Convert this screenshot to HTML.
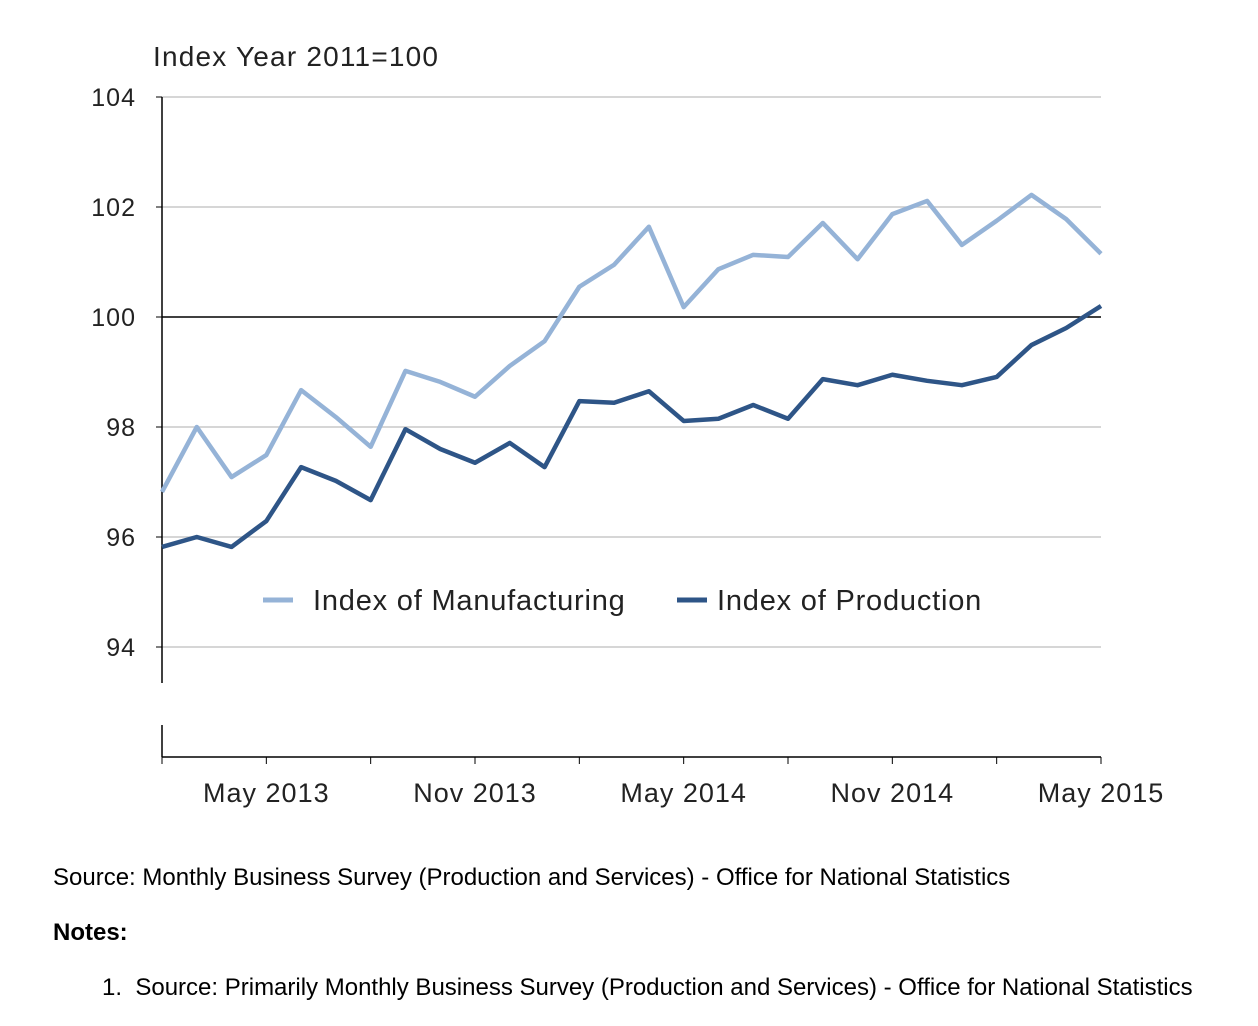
<!DOCTYPE html>
<html><head><meta charset="utf-8"><style>
body{margin:0;background:#fff;width:1258px;height:1026px;overflow:hidden;font-family:"Liberation Sans",sans-serif}
svg{position:absolute;left:0;top:0}
.t{position:absolute;color:#000;font-size:24px}
</style></head><body>
<svg width="1258" height="830">
<g id="g"></g>
</svg>
<div class="t" style="left:53px;top:864px">Source: Monthly Business Survey (Production and Services) - Office for National Statistics</div>
<div class="t" style="left:53px;top:919px;font-weight:bold">Notes:</div>
<div class="t" style="left:102px;top:974px">1.&nbsp; Source: Primarily Monthly Business Survey (Production and Services) - Office for National Statistics</div>
<script>
const yTicks=[94,96,98,100,102,104];
const xLabels=["May 2013","Nov 2013","May 2014","Nov 2014","May 2015"];
const xLabelIdx=[3,9,15,21,27];
const manufacturing=[96.82,98.0,97.09,97.49,98.67,98.18,97.64,99.02,98.82,98.55,99.11,99.56,100.55,100.95,101.64,100.18,100.87,101.13,101.09,101.71,101.05,101.87,102.11,101.31,101.75,102.22,101.78,101.15];
const production=[95.82,96.0,95.82,96.29,97.27,97.02,96.67,97.96,97.6,97.35,97.71,97.27,98.47,98.44,98.65,98.11,98.15,98.4,98.15,98.87,98.76,98.95,98.84,98.76,98.91,99.49,99.8,100.2];
const x0=162,x1=1101,n=manufacturing.length;
const X=i=>x0+i*(x1-x0)/(n-1);
const Y=v=>97+(104-v)*55;
const g=document.getElementById('g');
const NS='http://www.w3.org/2000/svg';
function mk(tag,attrs){const e=document.createElementNS(NS,tag);for(const k in attrs)e.setAttribute(k,attrs[k]);g.appendChild(e);return e;}
yTicks.forEach(v=>{
 const l=mk('line',{x1:x0,x2:x1,y1:Y(v),y2:Y(v),stroke:v===100?'#000':'#c8c8c8','stroke-width':1.5});
 
 
 const tk=mk('line',{x1:x0-6,x2:x0,y1:Y(v),y2:Y(v),stroke:'#000'});
 
 
 const t=mk('text',{x:x0-26,y:Y(v)+9,'text-anchor':'end','font-size':25,fill:'#222','letter-spacing':1});
 t.textContent=v;
 
 
});
const ya=mk('line',{x1:x0,x2:x0,y1:97,y2:683,stroke:'#000','stroke-width':1.5});


const ya2=mk('line',{x1:x0,x2:x0,y1:725,y2:757,stroke:'#000','stroke-width':1.5});


const xa=mk('line',{x1:x0,x2:x1,y1:757,y2:757,stroke:'#000','stroke-width':1.5});


for(let i=0;i<n;i+=3){
 const tk=mk('line',{x1:X(i),x2:X(i),y1:757,y2:764,stroke:'#000'});
 
 
}
xLabels.forEach((s,k)=>{
 const t=mk('text',{x:X(xLabelIdx[k]),y:802,'text-anchor':'middle','font-size':27,fill:'#222','letter-spacing':1});
 t.textContent=s;
 
 
});
const tt=mk('text',{x:153,y:66,'font-size':28,fill:'#222','letter-spacing':1.2});
tt.textContent='Index Year 2011=100';


function line(arr,col,name){
 const p=mk('polyline',{points:arr.map((v,i)=>X(i)+','+Y(v)).join(' '),fill:'none',stroke:col,'stroke-width':4.5,'stroke-linejoin':'round'});
 
 
}
line(manufacturing,'#95b3d7','manufacturing-line');
line(production,'#2e5587','production-line');
[[263,313,'#95b3d7','Index of Manufacturing'],[677,717,'#2e5587','Index of Production']].forEach(([lx,tx,c,s])=>{
 const l=mk('line',{x1:lx,x2:lx+30,y1:600,y2:600,stroke:c,'stroke-width':5});
 
 
 const t=mk('text',{x:tx,y:610,'font-size':29,fill:'#222','letter-spacing':0.8});
 t.textContent=s;
 
 
});
</script>
</body></html>
